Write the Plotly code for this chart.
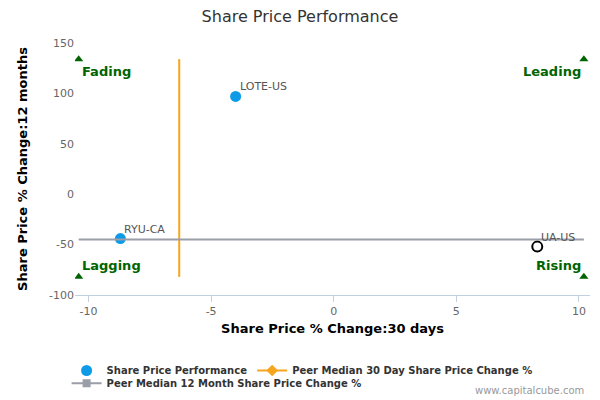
import plotly.graph_objects as go

# data
tickers = ["LOTE-US", "RYU-CA", "UA-US"]
chg_30d = [-4.0, -8.7, 8.3]
chg_12m = [97, -44, -52]
focus = "UA-US"

peer_median_30d = -6.3
peer_median_12m = -45
box_x = [-10.4, 10.2]
box_y = [-82, 134]

quadrants = ["Fading", "Leading", "Lagging", "Rising"]

x_ticks = [-10, -5, 0, 5, 10]
y_ticks = [-100, -50, 0, 50, 100, 150]

font = "DejaVu Sans"
green = "#006400"
orange = "#F7A51C"
grey = "#9A9EA8"

peers = [i for i, t in enumerate(tickers) if t != focus]
me = tickers.index(focus)

fig = go.Figure()

fig.add_trace(go.Scatter(
    x=[chg_30d[i] for i in peers],
    y=[chg_12m[i] for i in peers],
    mode="markers",
    marker=dict(color="#0D9BE8", size=11),
    name="Share Price Performance",
))

fig.add_trace(go.Scatter(
    x=[chg_30d[me]],
    y=[chg_12m[me]],
    mode="markers",
    marker=dict(color="white", size=10, line=dict(color="black", width=2)),
    showlegend=False,
))

# median lines (legend entries drawn separately with line + marker)
fig.add_trace(go.Scatter(
    x=[peer_median_30d, peer_median_30d], y=box_y, mode="lines",
    line=dict(color=orange, width=2), showlegend=False, hoverinfo="skip",
))
fig.add_trace(go.Scatter(
    x=box_x, y=[peer_median_12m, peer_median_12m], mode="lines",
    line=dict(color=grey, width=2), showlegend=False, hoverinfo="skip",
))
fig.add_trace(go.Scatter(
    x=[None], y=[None], mode="lines+markers",
    line=dict(color=orange, width=2), marker=dict(symbol="diamond", size=9),
    name="Peer Median 30 Day Share Price Change %",
))
fig.add_trace(go.Scatter(
    x=[None], y=[None], mode="lines+markers",
    line=dict(color=grey, width=2), marker=dict(symbol="square", size=8),
    name="Peer Median 12 Month Share Price Change %", legend="legend2",
))

# quadrant corner markers
fig.add_trace(go.Scatter(
    x=[box_x[0], box_x[1], box_x[0], box_x[1]],
    y=[box_y[1], box_y[1], box_y[0], box_y[0]],
    mode="markers",
    marker=dict(symbol="triangle-up", color=green, size=8),
    showlegend=False,
    hoverinfo="skip",
))

for i, t in enumerate(tickers):
    fig.add_annotation(
        x=chg_30d[i], y=chg_12m[i], text=t, showarrow=False,
        xanchor="left", yanchor="bottom", xshift=2, yshift=1,
        font=dict(family=font, size=11, color="#555555"),
    )

label_pos = [
    (box_x[0], box_y[1], "left", "top"),
    (box_x[1], box_y[1], "right", "top"),
    (box_x[0], box_y[0], "left", "bottom"),
    (box_x[1], box_y[0], "right", "bottom"),
]
for name, (x, y, xa, ya) in zip(quadrants, label_pos):
    fig.add_annotation(
        x=x, y=y, text="<b>%s</b>" % name, showarrow=False,
        xanchor=xa, yanchor=ya, xshift=1 if xa == "left" else -1,
        yshift=-3 if ya == "top" else 2,
        font=dict(family=font, size=13, color=green),
    )

fig.add_annotation(
    x=1, y=0, xref="paper", yref="paper", xanchor="right", yanchor="bottom",
    xshift=-4, yshift=-103, text="www.capitalcube.com", showarrow=False,
    font=dict(family=font, size=10, color="#999999"),
)

legend_font = dict(family=font, size=10, color="#333333", weight="bold")
clear = "rgba(0,0,0,0)"

fig.update_layout(
    width=600, height=400,
    margin=dict(l=75, r=10, t=43, b=105),
    paper_bgcolor="white", plot_bgcolor="white",
    title=dict(text="Share Price Performance", x=0.5, xanchor="center",
               yref="container", y=0.96, yanchor="middle",
               font=dict(family=font, size=16, color="#333333")),
    font=dict(family=font, size=11, color="#666666"),
    showlegend=True,
    legend=dict(orientation="h", xref="container", yref="container",
                x=0.111, y=0.11, xanchor="left", yanchor="top", bgcolor=clear,
                font=legend_font, itemwidth=30, tracegroupgap=0),
    legend2=dict(orientation="h", xref="container", yref="container",
                 x=0.111, y=0.078, xanchor="left", yanchor="top", bgcolor=clear,
                 font=legend_font, itemwidth=30, tracegroupgap=0),
)

fig.update_xaxes(
    range=[-10.55, 10.45], tickmode="array", tickvals=x_ticks,
    ticktext=[str(v) for v in x_ticks], showgrid=False, zeroline=False,
    showline=True, linecolor="#C0D0E0", ticks="outside", tickcolor="#C0D0E0",
    ticklen=6, automargin=False,
    tickfont=dict(family=font, size=11, color="#666666"),
    title=dict(text="<b>Share Price % Change:30 days</b>",
               font=dict(family=font, size=13, color="black"), standoff=6),
)
fig.update_yaxes(
    range=[-100, 150], tickmode="array", tickvals=y_ticks,
    ticktext=[str(v) for v in y_ticks], showgrid=False, zeroline=False,
    showline=False, automargin=False,
    tickfont=dict(family=font, size=11, color="#666666"),
    title=dict(text="<b>Share Price % Change:12 months</b>",
               font=dict(family=font, size=13, color="black"), standoff=18),
)

fig.write_html("out.html", config={"displayModeBar": False},
               post_script="document.body.style.margin = '0';")
